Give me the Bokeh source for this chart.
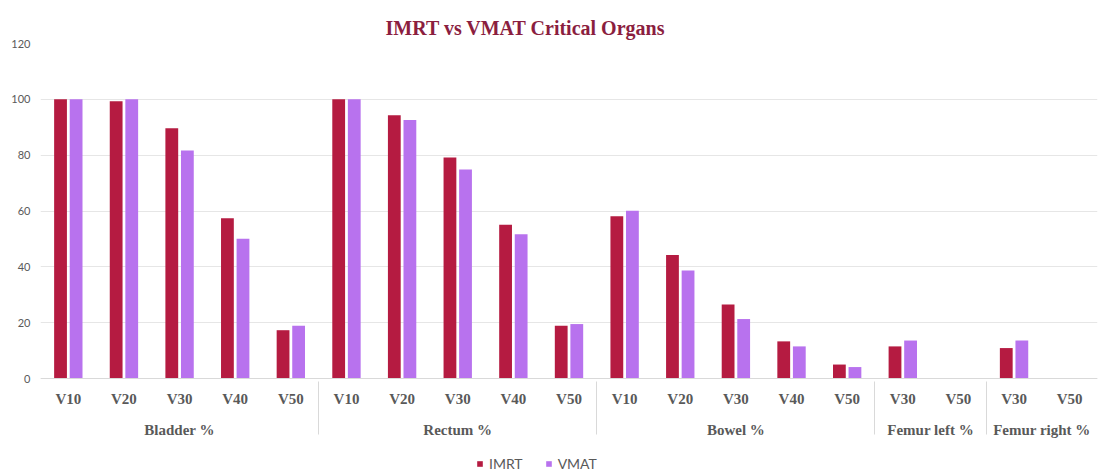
from bokeh.plotting import figure
from bokeh.models import FactorRange, ColumnDataSource, Legend, LegendItem, Title
from bokeh.transform import dodge
from bokeh.embed import file_html
from bokeh.resources import INLINE

organs = ["Bladder %", "Rectum %", "Bowel %", "Femur left %", "Femur right %"]
metrics = [
    ["V10", "V20", "V30", "V40", "V50"],
    ["V10", "V20", "V30", "V40", "V50"],
    ["V10", "V20", "V30", "V40", "V50"],
    ["V30", "V50"],
    ["V30", "V50"],
]
imrt = [100, 99.3, 89.6, 57.4, 17.3,
        100, 94.3, 79.2, 55.1, 18.9,
        58.1, 44.2, 26.5, 13.3, 5.0,
        11.5, 0,
        10.9, 0]
vmat = [100, 100, 81.7, 50.1, 18.9,
        100, 92.6, 74.9, 51.7, 19.5,
        60.1, 38.7, 21.3, 11.5, 4.1,
        13.6, 0,
        13.6, 0]
y_ticks = [0, 20, 40, 60, 80, 100, 120]

factors = [(o, m) for o, ms in zip(organs, metrics) for m in ms]
src = ColumnDataSource(dict(x=factors, imrt=imrt, vmat=vmat))

IMRT_C = "#B51B41"
VMAT_C = "#B872EE"
TXT = "#595959"

p = figure(frame_width=1057, frame_height=429, output_backend="svg", toolbar_location=None,
           x_range=FactorRange(*factors, group_padding=0, factor_padding=0, range_padding=0),
           y_range=(-33.67, 120), min_border_left=40, min_border_right=3, min_border_top=43,
           min_border_bottom=0)

r1 = p.vbar(x=dodge("x", -0.14, range=p.x_range), top="imrt", width=0.23, source=src,
            fill_color=IMRT_C, line_color=None)
r2 = p.vbar(x=dodge("x", 0.14, range=p.x_range), top="vmat", width=0.23, source=src,
            fill_color=VMAT_C, line_color=None)

p.title = Title(text="IMRT vs VMAT Critical Organs", align="left", offset=345,
                text_font="Liberation Serif", text_font_style="bold",
                text_font_size="20px", text_color="#8B1E3F")

p.outline_line_color = None
p.xgrid.grid_line_color = None
p.ygrid.grid_line_color = "#E6E6E6"
p.ygrid.grid_line_width = 1
p.yaxis.ticker = y_ticks
p.yaxis.axis_line_color = None
p.yaxis.major_tick_line_color = None
p.yaxis.minor_tick_line_color = None
p.yaxis.major_tick_out = 0
p.yaxis.major_tick_in = 0
p.yaxis.major_label_text_font = "Lato"
p.yaxis.major_label_text_font_size = "11px"
p.yaxis.major_label_text_color = TXT
p.yaxis.major_label_standoff = 10

xa = p.xaxis[0]
xa.fixed_location = 0
xa.axis_line_color = "#D9D9D9"
xa.major_tick_line_color = None
xa.minor_tick_line_color = None
xa.major_tick_out = 0
xa.major_tick_in = 0
xa.major_label_text_font = "Liberation Serif"
xa.major_label_text_font_style = "bold"
xa.major_label_text_font_size = "15px"
xa.major_label_text_color = TXT
xa.major_label_standoff = 12
xa.group_text_font = "Liberation Serif"
xa.group_text_font_style = "bold"
xa.group_text_font_size = "15px"
xa.group_text_color = TXT
xa.separator_line_color = "#D9D9D9"
xa.separator_line_width = 1

legend = Legend(items=[LegendItem(label="IMRT", renderers=[r1]),
                       LegendItem(label="VMAT", renderers=[r2])],
                orientation="horizontal", location=(436, 0),
                label_text_font="Lato", label_text_font_size="14px",
                label_text_color=TXT, glyph_width=7, glyph_height=7,
                label_standoff=6, spacing=22, border_line_color=None,
                background_fill_color=None,
                padding=2, margin=0)
p.add_layout(legend, "center")

open("out.html", "w").write(file_html(p, INLINE))
